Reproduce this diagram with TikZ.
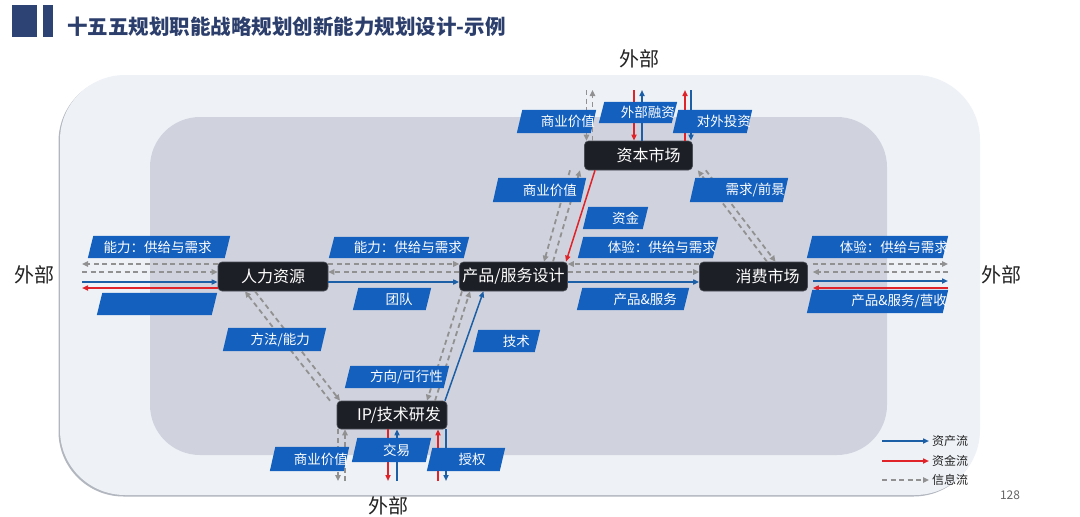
\documentclass[tikz,border=0pt]{standalone}
\usepackage{fontspec}
\setmainfont{Noto Sans CJK SC}
\usetikzlibrary{arrows.meta}
\definecolor{outerc}{HTML}{EEF2F7}
\definecolor{innerc}{HTML}{D0D3DD}
\definecolor{shadowc}{HTML}{B2B6BE}
\definecolor{titlec}{HTML}{2C3E6B}
\definecolor{blockc}{HTML}{2D4373}
\definecolor{nodec}{HTML}{1D1F26}
\definecolor{nodeb}{HTML}{4A4D55}
\definecolor{bluec}{HTML}{1D5FA6}
\definecolor{redc}{HTML}{E02229}
\definecolor{greyc}{HTML}{919191}
\definecolor{labc}{HTML}{1460BF}
\definecolor{txtc}{HTML}{222222}
\newcommand\blab[5]{%
  \node[labbox, minimum width=#4pt, minimum height=#5pt] (#1) at (#2,#3) {};
  \fill[labc] (#1.south west) -- ([xshift=5.5pt]#1.north west) -- (#1.north east)
    -- ([xshift=-5.5pt]#1.south east) -- cycle;}
\begin{document}
\begin{tikzpicture}[x=1pt,y=-1pt,
  mn/.style={fill=nodec, draw=nodeb, line width=0.6pt, rounded corners=4pt, text=white,
    font=\fontsize{16}{16}\selectfont, minimum height=29pt, minimum width=108pt,
    inner xsep=1pt, inner ysep=0pt},
  labbox/.style={rectangle, inner sep=0pt},
  lt/.style={text=white, font=\fontsize{13.5}{13.5}\selectfont, inner sep=0pt},
  ext/.style={text=txtc, font=\fontsize{20}{20}\selectfont, inner sep=0pt},
  ast/.style={draw=bluec, line width=1.5pt, -{Triangle[length=6pt,width=5pt]}},
  fund/.style={draw=redc, line width=1.5pt, -{Triangle[length=6pt,width=5pt]}},
  info/.style={draw=greyc, line width=1.8pt, dash pattern=on 5pt off 3.5pt,
    -{Triangle[length=6pt,width=5.5pt]}},
  legt/.style={text=txtc, font=\fontsize{12}{12}\selectfont, inner sep=0pt, anchor=west}
]
\useasboundingbox (0,0) rectangle (1080,517);
\fill[white] (0,0) rectangle (1080,517);

% title
\fill[blockc] (12,5) rectangle (37,37);
\fill[blockc] (43,5) rectangle (53,37);
\node[anchor=west, font=\bfseries\fontsize{20.5}{20.5}\selectfont, text=titlec, inner sep=0pt]
  (title) at (67,27) {十五五规划职能战略规划创新能力规划设计-示例};

% backgrounds
\fill[shadowc, rounded corners=65pt] (58.5,76.5) rectangle (978.5,496.5);
\fill[outerc, rounded corners=65pt] (60,75) rectangle (980,495);
\fill[innerc, rounded corners=50pt] (150,117) rectangle (887,455);

% main nodes
\node[mn] (cap)  at (638.5,155.5) {\hspace*{20pt}资本市场};
\node[mn, minimum width=110pt] (hr) at (273,276.5) {人力资源};
\node[mn] (prod) at (513.5,276.5) {产品/服务设计};
\node[mn] (cons) at (753.5,276.5) {\hspace*{28pt}消费市场};
\node[mn, minimum width=110pt, minimum height=28pt] (ip) at (392,415) {\hspace*{14pt}IP/技术研发};

% free ends
\coordinate (extL) at (82,276.5);
\coordinate (extR) at (948,276.5);
\coordinate (extT) at (638.5,90);
\coordinate (extB) at (392,481);

% horizontal: left
\draw[info] ([yshift=12.5pt]hr.west) -- ([yshift=12.5pt]extL);
\draw[info] ([yshift=4.5pt]extL) -- ([yshift=4.5pt]hr.west);
\draw[ast]  ([yshift=-5.5pt]extL) -- ([yshift=-5.5pt]hr.west);
\draw[fund] ([yshift=-11.5pt]hr.west) -- ([yshift=-11.5pt]extL);
% hr - prod
\draw[info] ([yshift=12.5pt]hr.east) -- ([yshift=12.5pt]prod.west);
\draw[info] ([yshift=4.5pt]prod.west) -- ([yshift=4.5pt]hr.east);
\draw[ast]  ([yshift=-5.5pt]hr.east) -- ([yshift=-5.5pt]prod.west);
% prod - cons
\draw[info] ([yshift=12.5pt]cons.west) -- ([yshift=12.5pt]prod.east);
\draw[info] ([yshift=4.5pt]prod.east) -- ([yshift=4.5pt]cons.west);
\draw[ast]  ([yshift=-5.5pt]prod.east) -- ([yshift=-5.5pt]cons.west);
% cons - right
\draw[info] ([xshift=5pt,yshift=12.5pt]cons.east) -- ([yshift=12.5pt]extR);
\draw[info] ([yshift=4.5pt]extR) -- ([xshift=5pt,yshift=4.5pt]cons.east);
\draw[ast]  ([xshift=5pt,yshift=-4.5pt]cons.east) -- ([yshift=-4.5pt]extR);
\draw[fund] ([yshift=-11.5pt]extR) -- ([xshift=5pt,yshift=-11.5pt]cons.east);

% vertical at capital market
\draw[info] ([xshift=-52pt]extT) -- ([xshift=-52pt]cap.north);
\draw[info] ([xshift=-46pt]cap.north) -- ([xshift=-46pt]extT);
\draw[fund] ([xshift=-4.5pt]extT) -- ([xshift=-4.5pt]cap.north);
\draw[ast]  ([xshift=3.5pt]cap.north) -- ([xshift=3.5pt]extT);
\draw[fund] ([xshift=46.5pt]cap.north) -- ([xshift=46.5pt]extT);
\draw[ast]  ([xshift=52.5pt]extT) -- ([xshift=52.5pt]cap.north);

% vertical at IP
\draw[info] ([xshift=-54pt]ip.south) -- ([xshift=-54pt]extB);
\draw[info] ([xshift=-47pt]extB) -- ([xshift=-47pt]ip.south);
\draw[fund] ([xshift=-4pt]ip.south) -- ([xshift=-4pt]extB);
\draw[ast]  ([xshift=5pt]extB) -- ([xshift=5pt]ip.south);
\draw[fund] ([xshift=46pt]extB) -- ([xshift=46pt]ip.south);
\draw[ast]  ([xshift=54pt]ip.south) -- ([xshift=54pt]extB);

% diagonals cap - prod
\draw[info] ([xshift=-68.5pt]cap.south) -- ([xshift=30.5pt]prod.north);
\draw[info] ([xshift=39.5pt]prod.north) -- ([xshift=-58.5pt]cap.south);
\draw[fund] ([xshift=-43.5pt]cap.south) -- ([xshift=52.5pt]prod.north);
% cap - cons
\draw[info] ([xshift=13.5pt]cons.north) -- ([xshift=5pt]cap.south east);
\draw[info] ([xshift=13pt]cap.south east) -- ([xshift=22pt]cons.north);
% hr - ip
\draw[info] ([xshift=-62pt]ip.north) -- ([xshift=-28pt]hr.south);
\draw[info] ([xshift=-18pt]hr.south) -- ([xshift=-52pt]ip.north);
% ip - prod
\draw[info] ([xshift=-51.5pt]prod.south) -- ([xshift=35pt]ip.north);
\draw[info] ([xshift=43pt]ip.north) -- ([xshift=-43.5pt]prod.south);
\draw[ast]  ([xshift=53pt]ip.north) -- ([xshift=-30pt]prod.south);

% blue labels
\blab{l1}{638}{112.5}{78}{21}
\node[lt, anchor=east] (l1t) at (675,112.5) {外部融资};
\blab{l2}{712.5}{121.5}{79}{23}
\node[lt, anchor=east] (l2t) at (751,121.5) {对外投资};
\blab{l3}{556.5}{121.5}{79}{23}
\node[lt, anchor=east] (l3t) at (595,121.5) {商业价值};
\blab{l4}{539.5}{190}{93}{24}
\node[lt, anchor=east] (l4t) at (577,190) {商业价值};
\blab{l5}{739}{190}{98}{24}
\node[lt, anchor=east] (l5t) at (785,190) {需求/前景};
\blab{l6}{615.5}{218}{65}{22}
\node[lt] (l6t) at (625.5,218) {资金};
\blab{l7}{648}{247.5}{140}{21}
\node[lt, anchor=east] (l7t) at (716,247.5) {体验：供给与需求};
\blab{l8}{399}{247.5}{140}{21}
\node[lt, anchor=east] (l8t) at (462,247.5) {能力：供给与需求};
\blab{l9}{392}{299}{78}{22}
\node[lt] (l9t) at (399,299) {团队};
\blab{l10}{633}{299}{112}{22}
\node[lt, anchor=east] (l10t) at (677,299) {产品\&服务};
\blab{l11}{506.5}{341}{67}{22}
\node[lt, anchor=east] (l11t) at (530,341) {技术};
\blab{l12}{274.5}{339.5}{103}{23}
\node[lt, anchor=east] (l12t) at (310,339.5) {方法/能力};
\blab{l13}{397}{377}{104}{22}
\node[lt, anchor=east] (l13t) at (443,377) {方向/可行性};
\blab{l14}{309.5}{459}{79}{24}
\node[lt, anchor=east] (l14t) at (348,459) {商业价值};
\blab{l15}{391.5}{450}{79}{24}
\node[lt] (l15t) at (396.5,450) {交易};
\blab{l16}{466}{459.5}{78}{23}
\node[lt] (l16t) at (472,459.5) {授权};
\blab{l17}{159}{247}{142}{22}
\node[lt] (l17t) at (157.5,247) {能力：供给与需求};
\blab{l18}{157}{304}{120}{22}
\blab{l19}{877.5}{247}{141}{22}
\node[lt, anchor=east] (l19t) at (948,247) {体验：供给与需求};
\blab{l20}{877.5}{301.5}{141}{23}
\node[lt, anchor=east] (l20t) at (947,301.5) {产品\&服务/营收};

% external labels
\node[ext] (wT) at (639,59) {外部};
\node[ext] (wL) at (35,275) {外部};
\node[ext] (wR) at (1001,275) {外部};
\node[ext] (wB) at (388,506) {外部};

% legend
\coordinate (lg1a) at (882,441); \coordinate (lg1b) at (929,441);
\coordinate (lg2a) at (882,461); \coordinate (lg2b) at (929,461);
\coordinate (lg3a) at (882,480); \coordinate (lg3b) at (929,480);
\draw[ast] (lg1a) -- (lg1b);
\draw[fund] (lg2a) -- (lg2b);
\draw[info, line width=1.5pt] (lg3a) -- (lg3b);
\node[legt] (lg1t) at (932,441) {资产流};
\node[legt] (lg2t) at (932,461) {资金流};
\node[legt] (lg3t) at (932,480) {信息流};
\node[text=black!60, font=\fontsize{12}{12}\selectfont, inner sep=0pt] (pg) at (1010,495) {128};
\end{tikzpicture}
\end{document}
